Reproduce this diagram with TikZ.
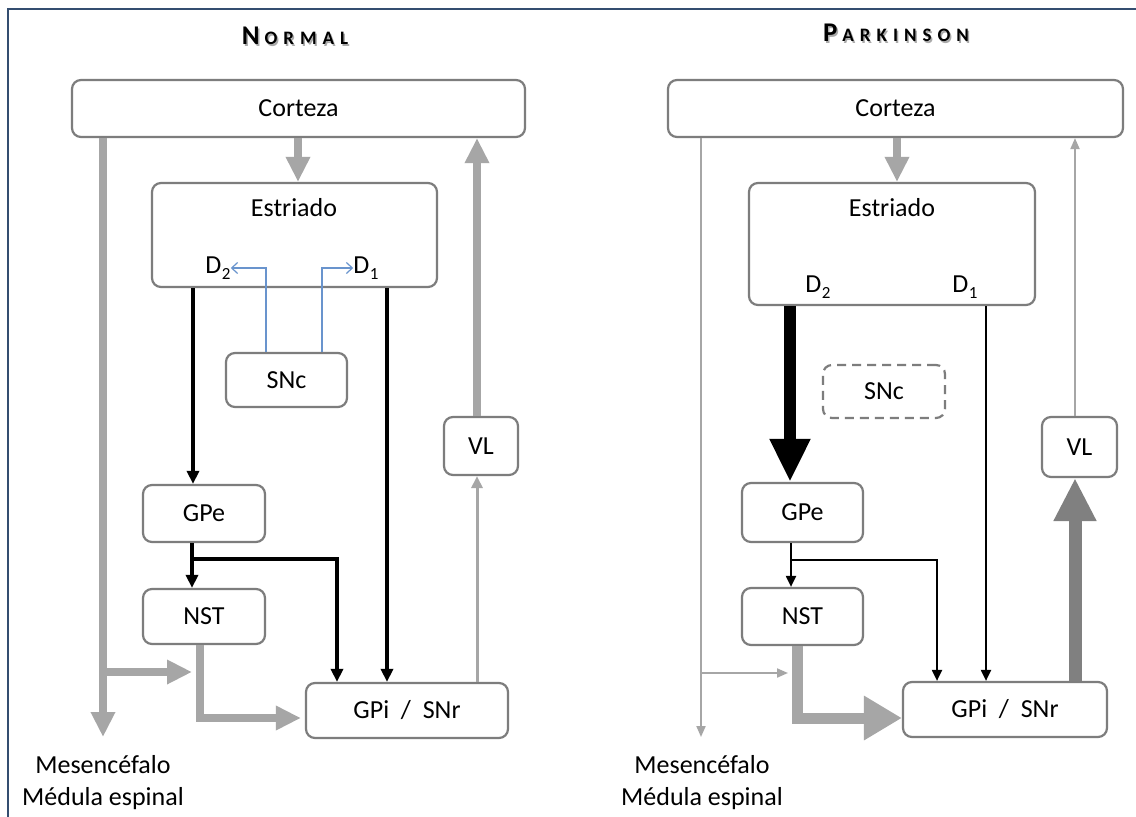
\documentclass[tikz,border=0pt]{standalone}
\usepackage{fontspec}
\setmainfont{Carlito}
\usetikzlibrary{arrows.meta,calc}

\definecolor{frameblue}{RGB}{52,78,112}
\definecolor{boxline}{RGB}{125,125,125}
\definecolor{pathgray}{RGB}{166,166,166}
\definecolor{darkpath}{RGB}{128,128,128}
\definecolor{dopablue}{RGB}{105,148,205}
\definecolor{titleshadow}{RGB}{170,170,170}

% receptor label with subscript
\newcommand\receptor[1]{D\kern0.5pt\raisebox{-6pt}{\fontsize{17}{17}\selectfont #1}}
% letter-spaced small-caps titles
\newcommand\titlenormal{\bfseries\fontsize{27}{30}\selectfont N\kern5pt\fontsize{19}{20}\selectfont O\kern6pt R\kern6pt M\kern6pt A\kern6pt L}
\newcommand\titleparkinson{\bfseries\fontsize{27}{30}\selectfont P\kern5pt\fontsize{19}{20}\selectfont A\kern6pt R\kern6pt K\kern6pt I\kern6pt N\kern6pt S\kern6pt O\kern6pt N}

\tikzset{
  box/.style={draw=boxline, line width=2.2pt, rounded corners=9pt, fill=white,
    inner sep=0pt, font=\fontsize{26}{28}\selectfont},
  lbl/.style={inner sep=0pt, font=\fontsize{26}{28}\selectfont},
  grayarrow/.style={draw=pathgray, line width=8pt,
    -{Triangle[length=25pt,width=23pt]}},
  thingray/.style={draw=pathgray, line width=3pt,
    -{Triangle[length=12pt,width=11pt]}},
  thingrayR/.style={draw=pathgray, line width=2pt,
    -{Triangle[length=11pt,width=9pt]}},
  blk/.style={draw=black, line width=3.2pt,
    -{Triangle[length=13pt,width=12pt]}},
  blkR/.style={draw=black, line width=2pt,
    -{Triangle[length=11pt,width=10pt]}},
  blu/.style={draw=dopablue, line width=1.2pt,
    -{Straight Barb[length=6pt,width=11pt]}},
  bigblack/.style={draw=black, line width=12pt,
    -{Triangle[length=43pt,width=38pt]}},
  bigdark/.style={draw=darkpath, line width=13pt,
    -{Triangle[length=43pt,width=40pt]}},
  biglight/.style={draw=pathgray, line width=11pt,
    -{Triangle[length=38pt,width=42pt]}},
}

\begin{document}
\begin{tikzpicture}[x=1pt,y=-1pt]
\useasboundingbox (0,0) rectangle (1136,817);
\fill[white] (0,0) rectangle (1136,817);
\draw[frameblue, line width=2pt] (8,9) rectangle (1150,830);

% ---------------- Normal circuit ----------------
\node[text=titleshadow] at (296.5,37.5) {\titlenormal};
\node (titleL) at (295,36) {\titlenormal};

\node[box, minimum width=453pt, minimum height=57pt] (cortL) at (298.5,108.5) {Corteza};
\node[box, minimum width=285pt, minimum height=104pt] (estL) at (294.5,235) {};
\node[lbl] (estLtxt) at (294,208) {Estriado};
\node[lbl] (d2L) at (218,268) {\receptor{2}};
\node[lbl] (d1L) at (366,268) {\receptor{1}};
\node[box, minimum width=121pt, minimum height=54pt] (sncL) at (286.5,380) {SNc};
\node[box, minimum width=122pt, minimum height=57pt] (gpeL) at (204,513.5) {GPe};
\node[box, minimum width=122pt, minimum height=55pt] (nstL) at (204,616.5) {NST};
\node[box, minimum width=202pt, minimum height=55pt] (gpiL) at (407,710.5) {GPi\ \ /\ \ SNr};
\node[box, minimum width=74pt, minimum height=58pt] (vlL) at (481,446) {VL};
\node[lbl] (mesoL) at (103,765) {Mesencéfalo};
\node[lbl] (medL) at (103,799) {Médula espinal};

\coordinate (mesoTipL) at (103,737);
\coordinate (branchL) at (103,672);
\coordinate (nstInL) at (192,672);
\coordinate (forkL) at (192,559);

\draw[grayarrow] (cortL.south -| 298,0) -- (estL.north -| 298,0);
\draw[grayarrow] (vlL.north -| 477,0) -- (cortL.south -| 477,0);
\draw[thingray] (gpiL.north -| 477,0) -- (vlL.south -| 477,0);
\draw[grayarrow] (cortL.south -| 103,0) -- (mesoTipL);
\draw[grayarrow] (branchL) -- (nstInL);
\draw[grayarrow, shorten >=4pt] (nstL.south -| 200,0) |- (gpiL.west |- 0,718);

\draw[blk] (estL.south -| 193,0) -- (gpeL.north -| 193,0);
\draw[blk] (gpeL.south -| 192,0) -- (nstL.north -| 192,0);
\draw[blk] (forkL) -| (gpiL.north -| 337,0);
\draw[blk] (estL.south -| 387,0) -- (gpiL.north -| 387,0);

\draw[blu] (sncL.north -| 266,0) |- (d2L.east);
\draw[blu] (sncL.north -| 322,0) |- (d1L.west);

% ---------------- Parkinson circuit ----------------
\node[text=titleshadow] at (897.5,34.5) {\titleparkinson};
\node (titleR) at (896,33) {\titleparkinson};

\node[box, minimum width=455pt, minimum height=57pt] (cortR) at (895.5,108.5) {Corteza};
\node[box, minimum width=286pt, minimum height=122pt] (estR) at (892,244) {};
\node[lbl] (estRtxt) at (892,208) {Estriado};
\node[lbl] (d2R) at (818,287) {\receptor{2}};
\node[lbl] (d1R) at (965,287) {\receptor{1}};
\node[box, dashed, dash pattern=on 9pt off 6pt, minimum width=122pt, minimum height=53pt] (sncR) at (884,391.5) {SNc};
\node[box, minimum width=121pt, minimum height=59pt] (gpeR) at (802.5,512.5) {GPe};
\node[box, minimum width=121pt, minimum height=57pt] (nstR) at (802.5,616.5) {NST};
\node[box, minimum width=204pt, minimum height=55pt] (gpiR) at (1005,709.5) {GPi\ \ /\ \ SNr};
\node[box, minimum width=75pt, minimum height=60pt] (vlR) at (1079.5,447) {VL};
\node[lbl] (mesoR) at (702,765) {Mesencéfalo};
\node[lbl] (medR) at (702,799) {Médula espinal};

\coordinate (mesoTipR) at (701,737);
\coordinate (branchR) at (701,673);
\coordinate (nstInR) at (788,673);
\coordinate (forkR) at (791,560);

\draw[grayarrow] (cortR.south -| 897,0) -- (estR.north -| 897,0);
\draw[thingrayR] (vlR.north -| 1075,0) -- (cortR.south -| 1075,0);
\draw[bigdark] (gpiR.north -| 1075,0) -- (vlR.south -| 1075,0);
\draw[thingrayR] (cortR.south -| 701,0) -- (mesoTipR);
\draw[thingrayR] (branchR) -- (nstInR);
\draw[biglight] (nstR.south -| 797,0) |- (gpiR.west |- 0,718);

\draw[bigblack] (estR.south -| 790,0) -- (gpeR.north -| 790,0);
\draw[blkR] (gpeR.south -| 791,0) -- (nstR.north -| 791,0);
\draw[blkR] (forkR) -| (gpiR.north -| 937,0);
\draw[blkR] (estR.south -| 986,0) -- (gpiR.north -| 986,0);
\end{tikzpicture}
\end{document}
